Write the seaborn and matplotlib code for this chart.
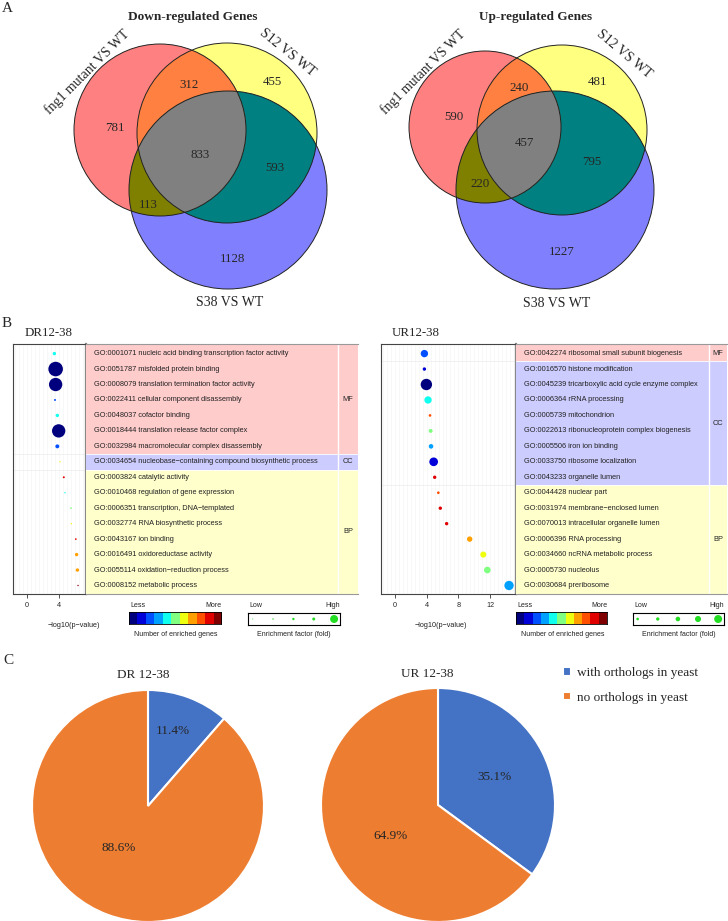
import numpy as np
import pandas as pd
import matplotlib
matplotlib.use("Agg")
import matplotlib.pyplot as plt
import seaborn as sns
from matplotlib.patches import Circle, Polygon
from matplotlib.colors import ListedColormap

# ----------------------------------------------------------
# Data
# ----------------------------------------------------------
set_names = ["fng1 mutant VS WT", "S12 VS WT", "S38 VS WT"]
# region order: A only, B only, C only, AB, BC, AC, ABC
down_counts = [781, 455, 1128, 312, 593, 113, 833]
up_counts = [590, 481, 1227, 240, 795, 220, 457]

dr_terms = [
    "GO:0001071 nucleic acid binding transcription factor activity",
    "GO:0051787 misfolded protein binding",
    "GO:0008079 translation termination factor activity",
    "GO:0022411 cellular component disassembly",
    "GO:0048037 cofactor binding",
    "GO:0018444 translation release factor complex",
    "GO:0032984 macromolecular complex disassembly",
    "GO:0034654 nucleobase\u2212containing compound biosynthetic process",
    "GO:0003824 catalytic activity",
    "GO:0010468 regulation of gene expression",
    "GO:0006351 transcription, DNA\u2212templated",
    "GO:0032774 RNA biosynthetic process",
    "GO:0043167 ion binding",
    "GO:0016491 oxidoreductase activity",
    "GO:0055114 oxidation\u2212reduction process",
    "GO:0008152 metabolic process",
]
dr_group = ["MF"] * 7 + ["CC"] + ["BP"] * 8
dr_logp = [3.42, 3.58, 3.58, 3.5, 3.79, 3.96, 3.79, 4.13, 4.6, 4.75, 5.5, 5.54, 6.1, 6.2, 6.3, 6.38]
dr_level = [4, 0, 0, 2, 4, 0, 2, 6, 9, 4, 5, 6, 9, 7, 7, 10]
dr_fold = [0.6, 11, 9.2, 0.2, 0.6, 9.2, 0.8, 0.1, 0.2, 0.1, 0.15, 0.1, 0.15, 0.6, 0.6, 0.1]

ur_terms = [
    "GO:0042274 ribosomal small subunit biogenesis",
    "GO:0016570 histone modification",
    "GO:0045239 tricarboxylic acid cycle enzyme complex",
    "GO:0006364 rRNA processing",
    "GO:0005739 mitochondrion",
    "GO:0022613 ribonucleoprotein complex biogenesis",
    "GO:0005506 iron ion binding",
    "GO:0033750 ribosome localization",
    "GO:0043233 organelle lumen",
    "GO:0044428 nuclear part",
    "GO:0031974 membrane\u2212enclosed lumen",
    "GO:0070013 intracellular organelle lumen",
    "GO:0006396 RNA processing",
    "GO:0034660 ncRNA metabolic process",
    "GO:0005730 nucleolus",
    "GO:0030684 preribosome",
]
ur_group = ["MF"] + ["CC"] * 8 + ["BP"] * 7
ur_logp = [3.71, 3.71, 3.96, 4.17, 4.42, 4.5, 4.55, 4.88, 5.01, 5.47, 5.72, 6.52, 9.43, 11.15, 11.66, 14.4]
ur_level = [2, 1, 0, 4, 8, 5, 3, 1, 9, 8, 9, 9, 7, 6, 5, 3]
ur_fold = [2.8, 0.6, 6.7, 2.8, 0.37, 0.8, 1.1, 3.9, 0.6, 0.37, 0.6, 0.6, 1.5, 1.9, 2.3, 4.5]

dr_legend_fold = [0.05, 0.1, 0.3, 0.47, 3.3]
ur_legend_fold = [0.36, 0.58, 1.1, 1.9, 3.3]

pie_labels = ["with orthologs in yeast", "no orthologs in yeast"]
dr_pie = [11.4, 88.6]
ur_pie = [35.1, 64.9]

# ----------------------------------------------------------
# Style
# ----------------------------------------------------------
sns.set_style("white")
SERIF = ["Liberation Serif", "DejaVu Serif"]
SANS = ["Liberation Sans", "DejaVu Sans"]
plt.rcParams["font.family"] = SERIF

venn_cols = {"A": "#FF8080", "B": "#FFFF80", "C": "#8080FF",
             "AB": "#FF8040", "BC": "#008080", "AC": "#808000", "ABC": "#808080"}
jet11 = ["#00007F", "#0000D8", "#0050FF", "#00A0FF", "#10FFEF", "#80FF80",
         "#EFFF10", "#FFA000", "#FF5000", "#E00000", "#7F0000"]
level_pal = {i: c for i, c in enumerate(jet11)}
band_cols = {"MF": "#FFCCCC", "CC": "#CCCCFF", "BP": "#FFFFCC"}
pie_cols = ["#4472C4", "#ED7D31"]

W, H = 728, 921
fig = plt.figure(figsize=(W / 100, H / 100), dpi=100)


def px_axes(x0, y0, x1, y1):
    return fig.add_axes([x0 / W, 1 - y1 / H, (x1 - x0) / W, (y1 - y0) / H])


ov = fig.add_axes([0, 0, 1, 1])
ov.set_xlim(0, W)
ov.set_ylim(H, 0)
ov.axis("off")


# ----------------------------------------------------------
# Panel A: Venn diagrams
# ----------------------------------------------------------
def region_poly(circles):
    pts = []
    for i, (cx, cy, r) in enumerate(circles):
        t = np.linspace(0, 2 * np.pi, 1441)
        p = np.c_[cx + r * np.cos(t), cy + r * np.sin(t)]
        keep = np.ones(len(p), bool)
        for j, (ox, oy, orr) in enumerate(circles):
            if j != i:
                keep &= np.hypot(p[:, 0] - ox, p[:, 1] - oy) <= orr + 1e-6
        pts.append(p[keep])
    pts = np.vstack(pts)
    c = pts.mean(0)
    ang = np.arctan2(pts[:, 1] - c[1], pts[:, 0] - c[0])
    return pts[np.argsort(ang)]


def venn(circles, counts, pos, title, tpos, name_pos):
    A, B, C = circles
    for circ, key in zip(circles, ["A", "B", "C"]):
        ov.add_patch(Circle(circ[:2], circ[2], fc=venn_cols[key], ec="none", zorder=1))
    for pair, key in [((A, B), "AB"), ((B, C), "BC"), ((A, C), "AC")]:
        ov.add_patch(Polygon(region_poly(pair), closed=True, fc=venn_cols[key], ec="none", zorder=2))
    ov.add_patch(Polygon(region_poly([A, B, C]), closed=True, fc=venn_cols["ABC"], ec="none", zorder=3))
    for circ in circles:
        ov.add_patch(Circle(circ[:2], circ[2], fc="none", ec="#222222", lw=0.7, zorder=4))
    for n, (x, y) in zip(counts, pos):
        ov.text(x, y, str(n), ha="center", va="center", fontsize=9.3, zorder=5)
    ov.text(tpos[0], tpos[1], title, ha="center", va="center", fontsize=9.5, fontweight="bold")
    for name, (x, y, rot) in zip(set_names, name_pos):
        ov.text(x, y, name, ha="center", va="center", fontsize=10, rotation=rot,
                rotation_mode="anchor")


venn([(160, 130, 86), (227, 133, 90), (228, 190, 99)], down_counts,
     [(115, 128), (272, 82), (233, 259), (189, 85), (275, 168), (148, 205), (200, 155)],
     "Down-regulated Genes", (193, 17),
     [(87, 72, 45), (287, 53, -39), (230, 302, 0)])
venn([(485, 127, 76), (562, 130, 85), (555, 190, 99)], up_counts,
     [(454, 117), (597, 82), (562, 252), (519, 88), (592, 162), (480, 184), (524, 143)],
     "Up-regulated Genes", (536, 17),
     [(423, 72, 45), (624, 54, -40), (557, 303, 0)])

ov.text(7, 8, "A", ha="center", va="center", fontsize=11)
ov.text(7, 323, "B", ha="center", va="center", fontsize=11)
ov.text(8, 660, "C", ha="center", va="center", fontsize=11)


# ----------------------------------------------------------
# Panel B: GO enrichment dot plots
# ----------------------------------------------------------
YLIM = (15.55, -0.62)


def dot_panel(box, tbox, terms, groups, logp, level, fold, xlim, xticks, div):
    ax = px_axes(*box)
    df = pd.DataFrame({"row": np.arange(len(terms)), "logp": logp,
                       "level": level, "fold": fold})
    sns.scatterplot(data=df, x="logp", y="row", hue="level", palette=level_pal,
                    size="fold", sizes=(0, 120), size_norm=(0, 12), legend=False,
                    edgecolor="none", ax=ax, zorder=3)
    ax.set_xlim(*xlim)
    ax.set_ylim(*YLIM)
    ax.set_xticks(xticks)
    ax.set_xticks(np.arange(np.ceil(xlim[0] * 2) / 2, xlim[1], 0.5), minor=True)
    ax.grid(which="both", axis="x", color="#F4F4F4", lw=0.4)
    ax.set_yticks([])
    ax.set_xlabel("")
    ax.set_ylabel("")
    ax.tick_params(axis="x", which="major", bottom=True, length=3, width=0.6,
                   pad=3, labelsize=5.2, color="#333333")
    ax.tick_params(axis="x", which="minor", bottom=False)
    for lab in ax.get_xticklabels():
        lab.set_family(SANS)
    for s in ax.spines.values():
        s.set_color("#444444")
        s.set_linewidth(0.8)
    ax.spines["right"].set_color("#888888")
    ax.spines["right"].set_linewidth(1.6)

    # group boundaries
    g = np.array(groups)
    bounds = [i - 0.5 for i in range(1, len(g)) if g[i] != g[i - 1]]
    for b in bounds:
        ax.axhline(b, color="#EBEBEB", lw=0.5, zorder=1)

    tab = px_axes(*tbox)
    tab.set_xlim(0, 1)
    tab.set_ylim(*YLIM)
    tab.set_xticks([])
    tab.set_yticks([])
    order = list(dict.fromkeys(groups))
    for grp in order:
        idx = [i for i, x in enumerate(groups) if x == grp]
        lo = idx[0] - 0.5 if idx[0] > 0 else -2
        hi = idx[-1] + 0.5 if idx[-1] < len(groups) - 1 else len(groups) + 2
        tab.axhspan(lo, hi, color=band_cols[grp], lw=0)
        tab.text((div + 1) / 2, (idx[0] + idx[-1]) / 2, grp, ha="center", va="center",
                 fontsize=5.3, family=SANS)
    for b in bounds:
        tab.axhline(b, color="white", lw=0.6)
    tab.axvline(div, color="white", lw=1.0)
    for i, term in enumerate(terms):
        tab.text(0.03 * 272 / (tbox[2] - tbox[0]), i, term, ha="left", va="center",
                 fontsize=5.3, family=SANS, color="#222222")
    for s in tab.spines.values():
        s.set_color("#999999")
        s.set_linewidth(0.8)
    tab.spines["left"].set_visible(False)
    tab.spines["right"].set_visible(False)
    return ax


dot_panel((13, 344, 86, 594), (86, 344, 358, 594), dr_terms, dr_group,
          dr_logp, dr_level, dr_fold, (-1.75, 7.375), [0, 4], 0.926)
dot_panel((381, 344, 516, 594), (516, 344, 727, 594), ur_terms, ur_group,
          ur_logp, ur_level, ur_fold, (-1.77, 15.28), [0, 4, 8, 12], 0.915)

ov.text(25, 333, "DR12-38", ha="left", va="center", fontsize=9.3)
ov.text(392, 333, "UR12-38", ha="left", va="center", fontsize=9.3)


def legends(cbox, ebox, efold, xlab_x):
    cax = px_axes(*cbox)
    cax.imshow(np.arange(11)[None, :], cmap=ListedColormap(jet11), aspect="auto")
    cax.set_xticks([])
    cax.set_yticks([])
    for s in cax.spines.values():
        s.set_color("black")
        s.set_linewidth(0.6)

    eax = px_axes(*ebox)
    edf = pd.DataFrame({"x": np.arange(len(efold)), "y": 0, "fold": efold})
    sns.scatterplot(data=edf, x="x", y="y", size="fold", sizes=(0, 120),
                    size_norm=(0, 12), color="#22DD22", edgecolor="none",
                    legend=False, ax=eax)
    eax.set_xlim(-0.23, 4.29)
    eax.set_ylim(-1, 1)
    eax.set_xticks([])
    eax.set_yticks([])
    eax.set_xlabel("")
    eax.set_ylabel("")
    for s in eax.spines.values():
        s.set_color("black")
        s.set_linewidth(0.8)

    kw = dict(fontsize=5.0, family=SANS, va="center", color="#222222")
    ov.text(cbox[0] + 1, 605, "Less", ha="left", **kw)
    ov.text(cbox[2], 605, "More", ha="right", **kw)
    ov.text(ebox[0] + 1, 605, "Low", ha="left", **kw)
    ov.text(ebox[2], 605, "High", ha="right", **kw)
    ov.text((cbox[0] + cbox[2]) / 2 + 1, 634, "Number of enriched genes", ha="center", **kw)
    ov.text((ebox[0] + ebox[2]) / 2, 634, "Enrichment factor (fold)", ha="center", **kw)
    ov.text(xlab_x, 625, "\u2212log10(p\u2212value)", ha="center", fontsize=5.2,
            family=SANS, va="center", color="#222222")


legends((129, 612, 221, 624), (248, 613, 340, 625), dr_legend_fold, 74)
legends((516, 612, 607, 624), (633, 613, 724, 625), ur_legend_fold, 441)


# ----------------------------------------------------------
# Panel C: pie charts
# ----------------------------------------------------------
def pie_panel(box, vals, title, tpos, label_pos):
    ax = px_axes(*box)
    wedges, _, autotexts = ax.pie(vals, colors=pie_cols, startangle=90, counterclock=False,
                                  autopct="%1.1f%%",
                                  wedgeprops=dict(edgecolor="white", linewidth=1.5),
                                  textprops=dict(fontsize=9.5, family=SERIF))
    for t, p in zip(autotexts, label_pos):
        t.set_position(p)
    ax.set_xlim(-1, 1)
    ax.set_ylim(-1, 1)
    ax.patch.set_alpha(0)
    ov.text(tpos[0], tpos[1], title, ha="center", va="center", fontsize=9.5)
    return wedges


w1 = pie_panel((32, 690, 264, 922), dr_pie, "DR 12-38", (143, 675),
               [(0.216, 0.647), (-0.25, -0.362)])
pie_panel((321, 688, 555, 922), ur_pie, "UR 12-38", (427, 674),
          [(0.479, 0.239), (-0.402, -0.265)])

fig.legend(w1, pie_labels, loc="upper left", bbox_to_anchor=(563 / W, 1 - 667 / H),
           frameon=False, handlelength=0.6, handleheight=0.6, handletextpad=0.45,
           labelspacing=0.95, borderpad=0, borderaxespad=0,
           prop=dict(family=SERIF, size=9.5))

fig.savefig("out.png", dpi=100)
